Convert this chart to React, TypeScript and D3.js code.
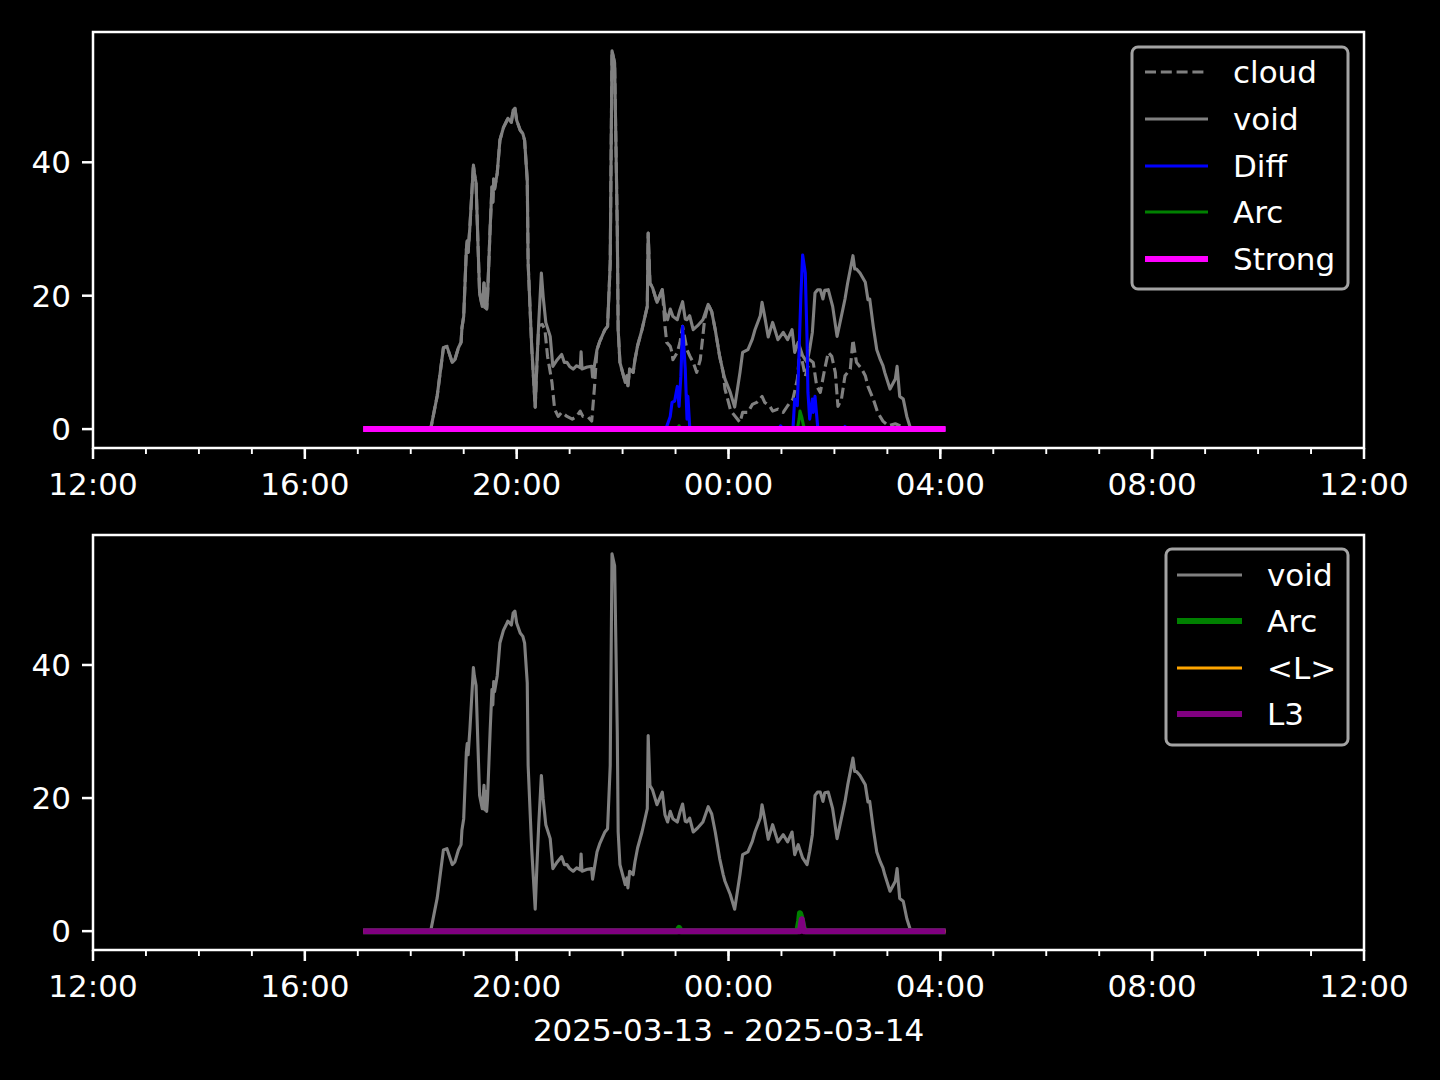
import React from "react";
import * as d3 from "d3";

type Pt = [string, number];

// ---- data (clock time, value); times >= 12:00 are on 2025-03-13, earlier ones on 2025-03-14
const voidSeries: Pt[] = [
  ["17:06", 0], ["18:21", 0], ["18:23", 0.3], ["18:30", 5], ["18:37", 12.2], ["18:41", 12.4], ["18:47", 10.0],
  ["18:50", 10.4], ["18:54", 12.2], ["18:57", 13.0], ["18:58", 15.2], ["19:00", 16.9], ["19:03", 26.9],
  ["19:04", 28.2], ["19:05", 26.5], ["19:06", 28.4], ["19:07", 30.3], ["19:11", 39.6], ["19:12", 38.4],
  ["19:14", 36.9], ["19:16", 28.4], ["19:18", 20.4], ["19:21", 18.4], ["19:23", 21.9], ["19:24", 18.2],
  ["19:25", 21.0], ["19:26", 18.0], ["19:27", 19.9], ["19:30", 30.3], ["19:32", 36.3], ["19:33", 34.0],
  ["19:34", 37.5], ["19:35", 36.0], ["19:38", 38.4], ["19:41", 43.3], ["19:45", 45.2], ["19:48", 46.0],
  ["19:50", 46.6], ["19:54", 46.0], ["19:56", 47.8], ["19:58", 48.1], ["20:00", 46.3], ["20:04", 44.8],
  ["20:07", 44.3], ["20:09", 43.3], ["20:12", 37.3], ["20:13", 24.9], ["20:17", 12.4], ["20:21", 3.3],
  ["20:23", 10], ["20:25", 16], ["20:28", 23.4], ["20:30", 19.9], ["20:33", 16], ["20:38", 13.9],
  ["20:41", 9.4], ["20:46", 10.4], ["20:51", 11.2], ["20:54", 10.0], ["20:57", 10.0], ["21:00", 9.4],
  ["21:04", 9.0], ["21:08", 9.5], ["21:12", 9.2], ["21:13", 11.6], ["21:14", 9.0], ["21:20", 9.3],
  ["21:25", 9.4], ["21:26", 7.8], ["21:31", 11.9], ["21:34", 13.1], ["21:40", 14.9], ["21:43", 15.4],
  ["21:46", 24.9], ["21:48", 56.7], ["21:51", 54.9], ["21:54", 29.9], ["21:55", 14.9], ["21:57", 10],
  ["22:00", 8.5], ["22:03", 7.0], ["22:05", 8.0], ["22:06", 6.5], ["22:08", 9.0], ["22:12", 8.5],
  ["22:14", 10.4], ["22:17", 12.5], ["22:22", 14.9], ["22:28", 18.4], ["22:29", 29.4], ["22:31", 21.9],
  ["22:34", 21.2], ["22:39", 19.0], ["22:45", 20.9], ["22:48", 17.5], ["22:51", 16.4], ["22:54", 18.0],
  ["22:57", 16.9], ["23:02", 16.4], ["23:05", 17.9], ["23:08", 19.1], ["23:11", 16.5], ["23:13", 16.4],
  ["23:16", 17.0], ["23:20", 14.9], ["23:25", 15.5], ["23:31", 16.4], ["23:37", 18.7], ["23:41", 17.6],
  ["23:45", 14.9], ["23:50", 10.9], ["23:54", 8.5], ["23:56", 7.5], ["00:02", 5.5], ["00:07", 3.3],
  ["00:13", 8.5], ["00:16", 11.5], ["00:22", 11.9], ["00:27", 13.5], ["00:30", 14.9], ["00:36", 17.0],
  ["00:38", 19.0], ["00:41", 16.9], ["00:45", 13.8], ["00:50", 16.0], ["00:56", 13.4], ["01:02", 14.5],
  ["01:07", 13.4], ["01:12", 14.9], ["01:15", 11.5], ["01:19", 13.0], ["01:24", 11.0], ["01:29", 10.0],
  ["01:32", 12.0], ["01:35", 14.5], ["01:38", 20.4], ["01:41", 20.9], ["01:44", 20.9], ["01:47", 19.5],
  ["01:49", 20.8], ["01:53", 20.9], ["01:58", 18.4], ["02:03", 13.9], ["02:08", 17.0], ["02:12", 19.5],
  ["02:15", 21.9], ["02:21", 26.0], ["02:23", 24.0], ["02:25", 24.0], ["02:29", 23.4], ["02:35", 22.0],
  ["02:38", 19.4], ["02:40", 19.5], ["02:44", 15.4], ["02:48", 11.9], ["02:52", 10.4], ["02:55", 9.5],
  ["02:57", 8.5], ["03:03", 6.0], ["03:09", 7.5], ["03:11", 9.4], ["03:14", 4.9], ["03:18", 4.5],
  ["03:22", 1.9], ["03:26", 0.2], ["04:06", 0],
];

const cloudSeries: Pt[] = [
  ["17:06", 0], ["18:21", 0], ["18:23", 0.3], ["18:30", 5], ["18:37", 12.2], ["18:41", 12.4], ["18:47", 10.0],
  ["18:50", 10.4], ["18:54", 12.2], ["18:57", 13.0], ["18:58", 15.2], ["19:00", 16.9], ["19:03", 26.9],
  ["19:04", 28.2], ["19:05", 26.5], ["19:06", 28.4], ["19:07", 30.3], ["19:11", 39.6], ["19:12", 38.4],
  ["19:14", 36.9], ["19:16", 28.4], ["19:18", 20.4], ["19:21", 18.4], ["19:23", 21.9], ["19:24", 18.2],
  ["19:25", 21.0], ["19:26", 18.0], ["19:27", 19.9], ["19:30", 30.3], ["19:32", 36.3], ["19:33", 34.0],
  ["19:34", 37.5], ["19:35", 36.0], ["19:38", 38.4], ["19:41", 43.3], ["19:45", 45.2], ["19:48", 46.0],
  ["19:50", 46.6], ["19:54", 46.0], ["19:56", 47.8], ["19:58", 48.1], ["20:00", 46.3], ["20:04", 44.8],
  ["20:07", 44.3], ["20:09", 43.3], ["20:12", 37.3], ["20:13", 24.9], ["20:17", 12.4], ["20:21", 3.3],
  ["20:23", 10], ["20:25", 15.5], ["20:29", 15.7], ["20:32", 14.9], ["20:35", 10.9], ["20:40", 7],
  ["20:43", 3], ["20:47", 1.9], ["20:51", 2.5], ["20:57", 1.9], ["21:03", 1.5], ["21:08", 1.9],
  ["21:12", 2.7], ["21:15", 1.9], ["21:21", 1.8], ["21:25", 1.2], ["21:28", 6], ["21:31", 11.9],
  ["21:34", 13.1], ["21:40", 14.9], ["21:43", 15.4], ["21:46", 24.9], ["21:48", 56.7], ["21:51", 54.9],
  ["21:54", 29.9], ["21:55", 14.9], ["21:57", 10], ["22:00", 8.5], ["22:03", 7.0], ["22:05", 8.0],
  ["22:06", 6.5], ["22:08", 9.0], ["22:12", 8.5], ["22:14", 10.4], ["22:17", 12.5], ["22:22", 14.9],
  ["22:28", 18.4], ["22:29", 29.4], ["22:31", 21.9], ["22:34", 21.2], ["22:39", 19.0], ["22:45", 20.9],
  ["22:48", 15.5], ["22:50", 13], ["22:54", 12.4], ["22:56", 11.5], ["22:57", 10.4], ["23:02", 11.5],
  ["23:05", 13], ["23:08", 15.4], ["23:13", 11.9], ["23:16", 11], ["23:20", 10], ["23:24", 8.5],
  ["23:28", 10.4], ["23:31", 14], ["23:33", 16.5], ["23:37", 18.7], ["23:41", 17.6], ["23:45", 14.9],
  ["23:50", 10.9], ["23:54", 8.5], ["23:56", 6], ["00:02", 3], ["00:04", 2.5], ["00:10", 1.5],
  ["00:13", 1], ["00:16", 2.5], ["00:22", 2.5], ["00:27", 3.7], ["00:32", 4], ["00:38", 4.9],
  ["00:41", 4], ["00:47", 3.4], ["00:50", 2.7], ["00:56", 3], ["01:02", 2.5], ["01:07", 3.5],
  ["01:13", 4.5], ["01:18", 7.5], ["01:21", 11.9], ["01:27", 7.9], ["01:32", 10.4], ["01:36", 10],
  ["01:40", 6.4], ["01:44", 5.5], ["01:49", 9], ["01:53", 11.5], ["01:57", 10.9], ["02:01", 8.5],
  ["02:04", 3.4], ["02:08", 4.5], ["02:12", 8], ["02:18", 9], ["02:21", 13.4], ["02:25", 10],
  ["02:31", 9], ["02:35", 8], ["02:38", 6.4], ["02:44", 4.5], ["02:49", 2.5], ["02:55", 1.2],
  ["03:01", 0.5], ["03:09", 0.8], ["03:16", 0.4], ["03:26", 0], ["04:06", 0],
];

const diffSeries: Pt[] = [
  ["17:06", 0], ["22:49", 0], ["22:50", 0.4], ["22:54", 1.9], ["22:56", 4], ["22:59", 4.2], ["23:02", 6.4],
  ["23:04", 3.4], ["23:06", 7.9], ["23:08", 15.4], ["23:11", 9], ["23:13", 1.5], ["23:14", 4.9],
  ["23:16", 0.4], ["23:17", 0], ["00:57", 0], ["00:59", 0.5], ["01:02", 0], ["01:13", 0], ["01:15", 4.5],
  ["01:18", 3.5], ["01:20", 11.9], ["01:22", 20], ["01:24", 26.1], ["01:27", 23.4], ["01:29", 13.4],
  ["01:30", 5.5], ["01:32", 1.5], ["01:35", 4.5], ["01:36", 2.5], ["01:38", 4.9], ["01:41", 0.4],
  ["01:42", 0], ["02:10", 0], ["02:12", 0.4], ["02:14", 0], ["04:06", 0],
];

const arcSeries: Pt[] = [
  ["17:06", 0], ["23:02", 0], ["23:04", 0.5], ["23:06", 0], ["01:18", 0], ["01:20", 1.5], ["01:21", 2.7],
  ["01:23", 1.8], ["01:25", 0.5], ["01:27", 0], ["04:06", 0],
];

const strongSeries: Pt[] = [["17:06", 0], ["04:06", 0]];
const meanLSeries: Pt[] = [["17:06", 0], ["04:06", 0]];
const l3Series: Pt[] = [["17:06", 0], ["01:21", 0], ["01:23", 1.8], ["01:25", 0], ["04:06", 0]];

const yTicks = [0, 20, 40];
const xLabel = "2025-03-13 - 2025-03-14";

// ---- styling
const FONT = "DejaVu Sans";
const FS = 31;
const W = 1440;
const H = 1080;
const LEFT = 93;
const RIGHT = 1364;
const PANELS = [
  { top: 32, bottom: 448 },
  { top: 535, bottom: 950 },
];

type SeriesDef = { name: string; data: Pt[]; color: string; width: number; dash?: string };

const topSeries: SeriesDef[] = [
  { name: "cloud", data: cloudSeries, color: "#808080", width: 3.1, dash: "11,4.8" },
  { name: "void", data: voidSeries, color: "#808080", width: 3.1 },
  { name: "Diff", data: diffSeries, color: "#0000ff", width: 3.1 },
  { name: "Arc", data: arcSeries, color: "#008000", width: 3.1 },
  { name: "Strong", data: strongSeries, color: "#ff00ff", width: 6 },
];
const bottomSeries: SeriesDef[] = [
  { name: "void", data: voidSeries, color: "#808080", width: 3.1 },
  { name: "Arc", data: arcSeries, color: "#008000", width: 6 },
  { name: "<L>", data: meanLSeries, color: "#ffa500", width: 3.1 },
  { name: "L3", data: l3Series, color: "#800080", width: 6 },
];

const parseT = (s: string) => {
  const [h, m] = s.split(":").map(Number);
  return new Date(2025, 2, h >= 12 ? 13 : 14, h, m);
};

export default function App() {
  const x = d3
    .scaleTime()
    .domain([new Date(2025, 2, 13, 12), new Date(2025, 2, 14, 12)])
    .range([LEFT, RIGHT]);
  const allVals = [...voidSeries, ...cloudSeries, ...diffSeries].map((d) => d[1]);
  const vmax = d3.max(allVals) as number;
  const vmin = d3.min(allVals) as number;
  const pad = (vmax - vmin) * 0.05;
  const majors = x.ticks(d3.timeHour.every(4) as any);
  const minors = x.ticks(d3.timeHour.every(1) as any);
  const fmt = d3.timeFormat("%H:%M");

  const renderPanel = (
    p: { top: number; bottom: number },
    series: SeriesDef[],
    legend: { x0: number; y0: number; w: number; h: number; rows: number[]; hx0: number; hx1: number; tx: number },
    key: string
  ) => {
    const y = d3.scaleLinear().domain([vmin - pad, vmax + pad]).range([p.bottom, p.top]);
    const line = d3
      .line<Pt>()
      .x((d) => x(parseT(d[0])))
      .y((d) => y(d[1]));
    return (
      <g key={key}>
        {series.map((s) => (
          <path
            key={s.name}
            d={line(s.data) || ""}
            fill="none"
            stroke={s.color}
            strokeWidth={s.width}
            strokeDasharray={s.dash}
            strokeLinejoin="round"
          />
        ))}
        <rect x={LEFT} y={p.top} width={RIGHT - LEFT} height={p.bottom - p.top} fill="none" stroke="#fff" strokeWidth={2.5} />
        {minors.map((t, i) => (
          <line key={"mn" + i} x1={x(t)} x2={x(t)} y1={p.bottom} y2={p.bottom + 6} stroke="#fff" strokeWidth={1.9} />
        ))}
        {majors.map((t, i) => (
          <g key={"mj" + i}>
            <line x1={x(t)} x2={x(t)} y1={p.bottom} y2={p.bottom + 11} stroke="#fff" strokeWidth={2.5} />
            <text x={x(t)} y={p.bottom + 47} fill="#fff" fontFamily={FONT} fontSize={FS} textAnchor="middle">
              {fmt(t)}
            </text>
          </g>
        ))}
        {yTicks.map((v) => (
          <g key={"yt" + v}>
            <line x1={LEFT - 11} x2={LEFT} y1={y(v)} y2={y(v)} stroke="#fff" strokeWidth={2.5} />
            <text x={LEFT - 22} y={y(v) + 11} fill="#fff" fontFamily={FONT} fontSize={FS} textAnchor="end">
              {v}
            </text>
          </g>
        ))}
        <rect
          x={legend.x0}
          y={legend.y0}
          width={legend.w}
          height={legend.h}
          rx={6}
          ry={6}
          fill="#000"
          stroke="#a3a3a3"
          strokeWidth={3}
        />
        {series.map((s, i) => (
          <g key={"lg" + s.name}>
            <line
              x1={legend.hx0}
              x2={legend.hx1}
              y1={legend.rows[i]}
              y2={legend.rows[i]}
              stroke={s.color}
              strokeWidth={s.width}
              strokeDasharray={s.dash}
            />
            <text x={legend.tx} y={legend.rows[i] + 11} fill="#fff" fontFamily={FONT} fontSize={FS}>
              {s.name}
            </text>
          </g>
        ))}
      </g>
    );
  };

  return (
    <svg
      width={W}
      height={H}
      viewBox={`0 0 ${W} ${H}`}
      style={{ position: "absolute", left: 0, top: 0, background: "#000" }}
    >
      <rect x={0} y={0} width={W} height={H} fill="#000" />
      {renderPanel(
        PANELS[0],
        topSeries,
        { x0: 1132, y0: 47, w: 216, h: 242, rows: [72, 119, 166, 212, 259], hx0: 1145, hx1: 1208, tx: 1233 },
        "top"
      )}
      {renderPanel(
        PANELS[1],
        bottomSeries,
        { x0: 1166, y0: 549, w: 182, h: 196, rows: [575, 621, 668, 714], hx0: 1177, hx1: 1242, tx: 1267 },
        "bottom"
      )}
      <text x={(LEFT + RIGHT) / 2} y={1041} fill="#fff" fontFamily={FONT} fontSize={FS} textAnchor="middle">
        {xLabel}
      </text>
    </svg>
  );
}
